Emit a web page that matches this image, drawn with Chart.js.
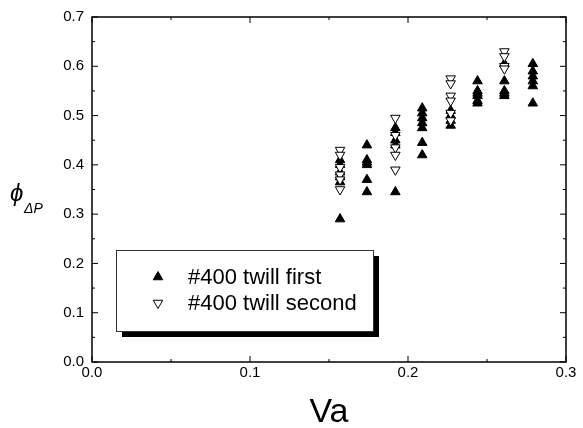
<!DOCTYPE html>
<html>
<head>
<meta charset="utf-8">
<script src="https://cdn.jsdelivr.net/npm/chart.js@4"></script>
<style>
  html, body { margin: 0; padding: 0; background: #fff; }
  #wrap { width: 583px; height: 428px; }
</style>
</head>
<body>
<div id="wrap"><canvas id="phiChart"></canvas></div>
<script>
// Va levels (columns of points) and phi_dP readings at each level
const vaLevels = [0.157, 0.174, 0.192, 0.209, 0.227, 0.244, 0.261, 0.279];
const firstPhi = [
    [0.29, 0.365, 0.375, 0.385, 0.40, 0.41],
    [0.44, 0.41, 0.405, 0.40, 0.37, 0.345],
    [0.475, 0.465, 0.45, 0.44, 0.345],
    [0.515, 0.505, 0.495, 0.485, 0.475, 0.445, 0.42],
    [0.51, 0.50, 0.49, 0.48],
    [0.57, 0.55, 0.545, 0.54, 0.53, 0.525],
    [0.605, 0.57, 0.55, 0.545, 0.54],
    [0.605, 0.59, 0.58, 0.57, 0.56, 0.525]
];
const secondPhi = [
    [0.43, 0.42, 0.395, 0.38, 0.37, 0.35],
    [],
    [0.495, 0.46, 0.435, 0.42, 0.39],
    [],
    [0.575, 0.565, 0.54, 0.53, 0.505, 0.49],
    [],
    [0.63, 0.62, 0.60, 0.595],
    []
];
const seriesNames = ['#400 twill first', '#400 twill second'];
const xTicks = [0.0, 0.1, 0.2, 0.3];
const yTicks = [0.0, 0.1, 0.2, 0.3, 0.4, 0.5, 0.6, 0.7];

function toPoints(groups) {
    const pts = [];
    groups.forEach((ys, i) => ys.forEach(y => pts.push({ x: vaLevels[i], y: y })));
    return pts;
}

const FONT = '"Liberation Sans", Arial, sans-serif';

// box frame with inward major/minor ticks on all four sides
const frameTicks = {
    id: 'frameTicks',
    afterDraw(chart) {
        const { ctx, chartArea: a, scales: { x, y } } = chart;
        ctx.save();
        ctx.strokeStyle = '#000';
        ctx.lineWidth = 1.5;
        ctx.strokeRect(a.left, a.top, a.right - a.left, a.bottom - a.top);
        ctx.lineWidth = 1;
        ctx.beginPath();
        for (let v = 0; v <= 0.3001; v += 0.05) {
            const px = x.getPixelForValue(v);
            const len = Math.abs(v * 10 - Math.round(v * 10)) < 1e-6 ? 6 : 3;
            ctx.moveTo(px, a.bottom); ctx.lineTo(px, a.bottom - len);
            ctx.moveTo(px, a.top); ctx.lineTo(px, a.top + len);
        }
        for (let v = 0; v <= 0.7001; v += 0.05) {
            const py = y.getPixelForValue(v);
            const len = Math.abs(v * 10 - Math.round(v * 10)) < 1e-6 ? 6 : 3;
            ctx.moveTo(a.left, py); ctx.lineTo(a.left + len, py);
            ctx.moveTo(a.right, py); ctx.lineTo(a.right - len, py);
        }
        ctx.stroke();

        // y axis title: phi with subscript delta-P
        ctx.fillStyle = '#000';
        ctx.textBaseline = 'alphabetic';
        ctx.font = 'italic 24px ' + FONT;
        ctx.fillText('\u03D5', 10, 201);
        ctx.font = 'italic 14px ' + FONT;
        ctx.fillText('\u0394P', 24, 213);
        ctx.restore();
    }
};

// legend box with drop shadow inside the plot
const boxLegend = {
    id: 'boxLegend',
    afterDraw(chart) {
        const { ctx } = chart;
        const bx = 116, by = 250, bw = 257, bh = 81;
        ctx.save();
        ctx.fillStyle = '#000';
        ctx.fillRect(bx + 6, by + 6, bw, bh);
        ctx.fillStyle = '#fff';
        ctx.fillRect(bx, by, bw, bh);
        ctx.strokeStyle = '#333';
        ctx.lineWidth = 1;
        ctx.strokeRect(bx + 0.5, by + 0.5, bw, bh);
        ctx.font = '22px ' + FONT;
        ctx.textBaseline = 'middle';
        chart.data.datasets.forEach((ds, i) => {
            const cy = 277 + i * 26;
            ctx.fillStyle = ds.pointBackgroundColor;
            ctx.strokeStyle = ds.pointBorderColor;
            ctx.lineWidth = ds.pointBorderWidth;
            Chart.helpers.drawPoint(ctx, {
                pointStyle: 'triangle', radius: ds.pointRadius, rotation: ds.pointRotation, borderWidth: ds.pointBorderWidth
            }, 158, cy);
            ctx.fillStyle = '#000';
            ctx.fillText(ds.label, 188, cy + 1);
        });
        ctx.restore();
    }
};

new Chart(document.getElementById('phiChart'), {
    type: 'scatter',
    data: {
        datasets: [
            {
                label: seriesNames[0],
                data: toPoints(firstPhi),
                pointStyle: 'triangle',
                pointRadius: 5.5,
                pointRotation: 0,
                pointBackgroundColor: '#000',
                pointBorderColor: '#000',
                pointBorderWidth: 1,
                order: 1
            },
            {
                label: seriesNames[1],
                data: toPoints(secondPhi),
                pointStyle: 'triangle',
                pointRadius: 5.5,
                pointRotation: 180,
                pointBackgroundColor: '#fff',
                pointBorderColor: '#000',
                pointBorderWidth: 1,
                order: 0
            }
        ]
    },
    options: {
        responsive: true,
        maintainAspectRatio: false,
        animation: false,
        layout: { padding: { left: 0, top: 16, right: 17, bottom: 0 } },
        plugins: {
            legend: { display: false },
            tooltip: { enabled: false }
        },
        scales: {
            x: {
                type: 'linear',
                min: 0, max: 0.3,
                afterFit(s) { s.height = 66; },
                afterBuildTicks(s) { s.ticks = xTicks.map(v => ({ value: v })); },
                grid: { display: false, drawTicks: false },
                border: { display: false },
                ticks: {
                    color: '#000', padding: 2,
                    font: { family: FONT, size: 15 },
                    callback: v => v.toFixed(1)
                },
                title: {
                    display: true, text: 'Va', color: '#000',
                    font: { family: FONT, size: 34 },
                    padding: { top: 0, bottom: -5 }
                }
            },
            y: {
                type: 'linear',
                min: 0, max: 0.7,
                afterFit(s) { s.width = 92; },
                afterBuildTicks(s) { s.ticks = yTicks.map(v => ({ value: v })); },
                grid: { display: false, drawTicks: false },
                border: { display: false },
                ticks: {
                    color: '#000', padding: 8,
                    font: { family: FONT, size: 15 },
                    callback: v => v.toFixed(1)
                }
            }
        }
    },
    plugins: [frameTicks, boxLegend]
});
</script>
</body>
</html>
